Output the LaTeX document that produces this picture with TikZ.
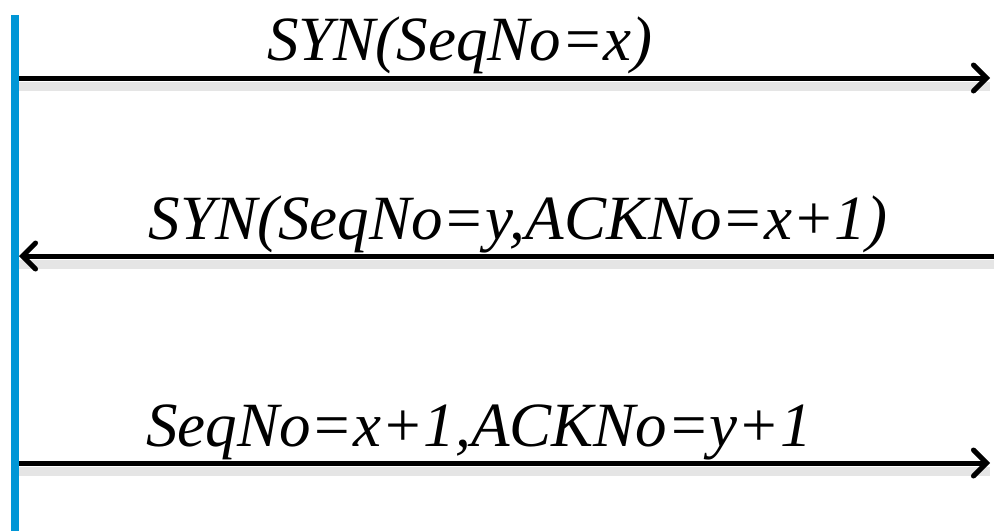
\documentclass[tikz,border=0pt]{standalone}
\usepackage{fontspec}
\setmainfont{Liberation Serif}
\usetikzlibrary{arrows.meta}
\definecolor{lifeblue}{RGB}{0,150,214}
\begin{document}
\begin{tikzpicture}[x=1pt,y=-1pt,
  lifeline/.style={draw=lifeblue,line width=8pt},
  msg/.style={draw=black,line width=5pt,-{Straight Barb[length=13pt,width=26pt,line cap=round]}},
  msgshadow/.style={draw=black!10,line width=9pt},
  lbl/.style={font=\fontsize{63}{70}\selectfont\itshape,anchor=base,inner sep=0pt}]
\useasboundingbox[fill=white] (0,0) rectangle (994,531);
% lifeline
\coordinate (top) at (15,15);
\coordinate (bot) at (15,531);
\draw[lifeline] (top) -- (bot);
% message end points
\coordinate (a1) at (19,78);  \coordinate (b1) at (990,78);
\coordinate (a2) at (19,256); \coordinate (b2) at (994,256);
\coordinate (a3) at (19,463); \coordinate (b3) at (990,463);
% soft shadows
\path[msgshadow] ([yshift=-8pt]a1) -- ([yshift=-8pt]b1);
\path[msgshadow] ([yshift=-8pt]a2) -- ([yshift=-8pt]b2);
\path[msgshadow] ([yshift=-8pt]a3) -- ([yshift=-8pt]b3);
% messages
\draw[msg] (a1) -- (b1);
\draw[msg] (b2) -- (a2);
\draw[msg] (a3) -- (b3);
% labels
\node[lbl] (t1) at (460,60) {SYN(SeqNo=x)};
\node[lbl] (t2) at (518,239) {SYN(SeqNo=y,ACKNo=x+1)};
\node[lbl] (t3) at (479,446) {SeqNo=x+1,ACKNo=y+1};
\end{tikzpicture}
\end{document}
